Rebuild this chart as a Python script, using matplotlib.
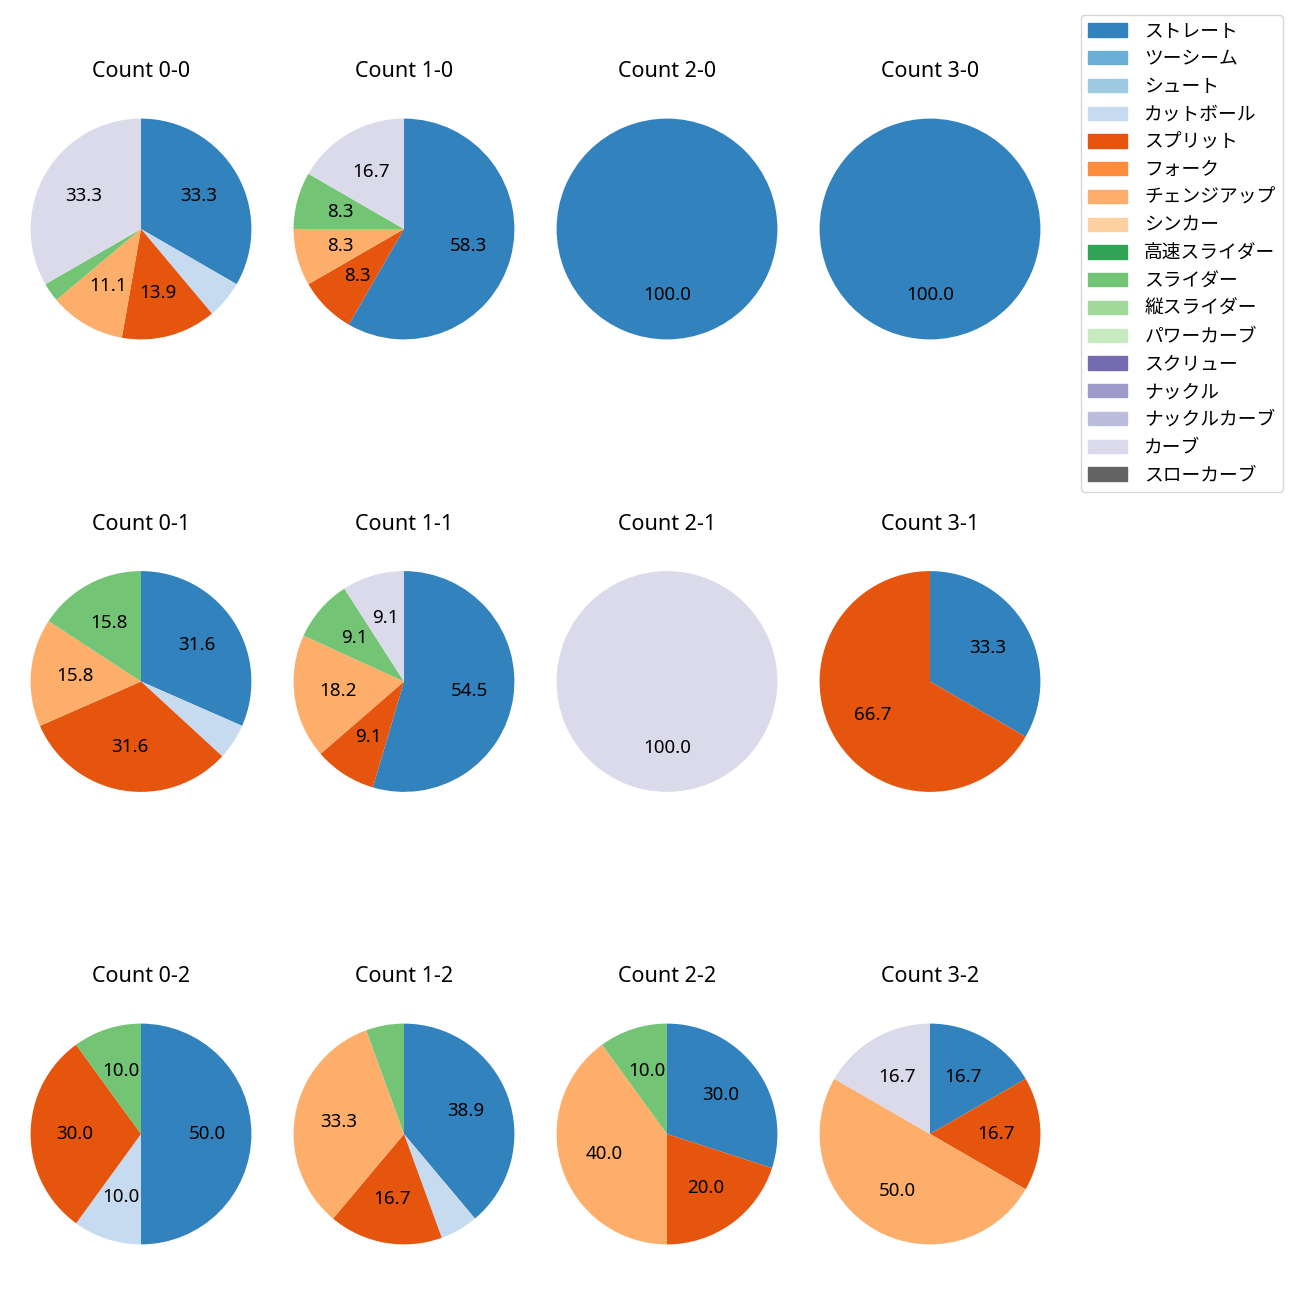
import matplotlib
matplotlib.use('Agg')
import matplotlib.pyplot as plt
from matplotlib.patches import Patch

plt.rcParams['font.family'] = ['Noto Sans', 'Noto Sans CJK JP', 'DejaVu Sans']

# pitch types (legend order) and their colours
pitch_types = ['ストレート', 'ツーシーム', 'シュート', 'カットボール', 'スプリット', 'フォーク',
               'チェンジアップ', 'シンカー', '高速スライダー', 'スライダー', '縦スライダー',
               'パワーカーブ', 'スクリュー', 'ナックル', 'ナックルカーブ', 'カーブ', 'スローカーブ']
colors = [plt.cm.tab20c(i) for i in range(len(pitch_types))]

# pitch counts per ball-strike count, same order as pitch_types
count_0_0 = [12, 0, 0, 2, 5, 0, 4, 0, 0, 1, 0, 0, 0, 0, 0, 12, 0]
count_1_0 = [7, 0, 0, 0, 1, 0, 1, 0, 0, 1, 0, 0, 0, 0, 0, 2, 0]
count_2_0 = [1, 0, 0, 0, 0, 0, 0, 0, 0, 0, 0, 0, 0, 0, 0, 0, 0]
count_3_0 = [1, 0, 0, 0, 0, 0, 0, 0, 0, 0, 0, 0, 0, 0, 0, 0, 0]
count_0_1 = [6, 0, 0, 1, 6, 0, 3, 0, 0, 3, 0, 0, 0, 0, 0, 0, 0]
count_1_1 = [6, 0, 0, 0, 1, 0, 2, 0, 0, 1, 0, 0, 0, 0, 0, 1, 0]
count_2_1 = [0, 0, 0, 0, 0, 0, 0, 0, 0, 0, 0, 0, 0, 0, 0, 1, 0]
count_3_1 = [1, 0, 0, 0, 2, 0, 0, 0, 0, 0, 0, 0, 0, 0, 0, 0, 0]
count_0_2 = [5, 0, 0, 1, 3, 0, 0, 0, 0, 1, 0, 0, 0, 0, 0, 0, 0]
count_1_2 = [7, 0, 0, 1, 3, 0, 6, 0, 0, 1, 0, 0, 0, 0, 0, 0, 0]
count_2_2 = [3, 0, 0, 0, 2, 0, 4, 0, 0, 1, 0, 0, 0, 0, 0, 0, 0]
count_3_2 = [1, 0, 0, 0, 1, 0, 3, 0, 0, 0, 0, 0, 0, 0, 0, 1, 0]

grid = [[count_0_0, count_1_0, count_2_0, count_3_0],
        [count_0_1, count_1_1, count_2_1, count_3_1],
        [count_0_2, count_1_2, count_2_2, count_3_2]]

W = H = 1300
fig = plt.figure(figsize=(13, 13), dpi=100)

box = 276  # axes size in px (pie diameter = 0.8 * box)
for strikes in range(3):
    for balls in range(4):
        cx = 141 + 263 * balls
        cy = 229 + 452.5 * strikes
        ax = fig.add_axes([(cx - box / 2) / W, 1 - (cy + box / 2) / H, box / W, box / H])
        vals = grid[strikes][balls]
        ax.pie(vals, colors=colors, startangle=90, counterclock=False,
               autopct=lambda p: f'{p:.1f}' if p >= 6 else '',
               textprops={'fontsize': 13.5})
        ax.set_title(f'Count {balls}-{strikes}', pad=10, fontsize=15.5)

handles = [Patch(color=c) for c in colors]
fig.legend(handles, pitch_types, loc='upper right', fontsize=13.5,
           labelspacing=0.52, handlelength=2.1, handletextpad=0.9,
           bbox_to_anchor=(1283 / W, 1 - 15 / H), borderaxespad=0)

fig.savefig('out.png')
